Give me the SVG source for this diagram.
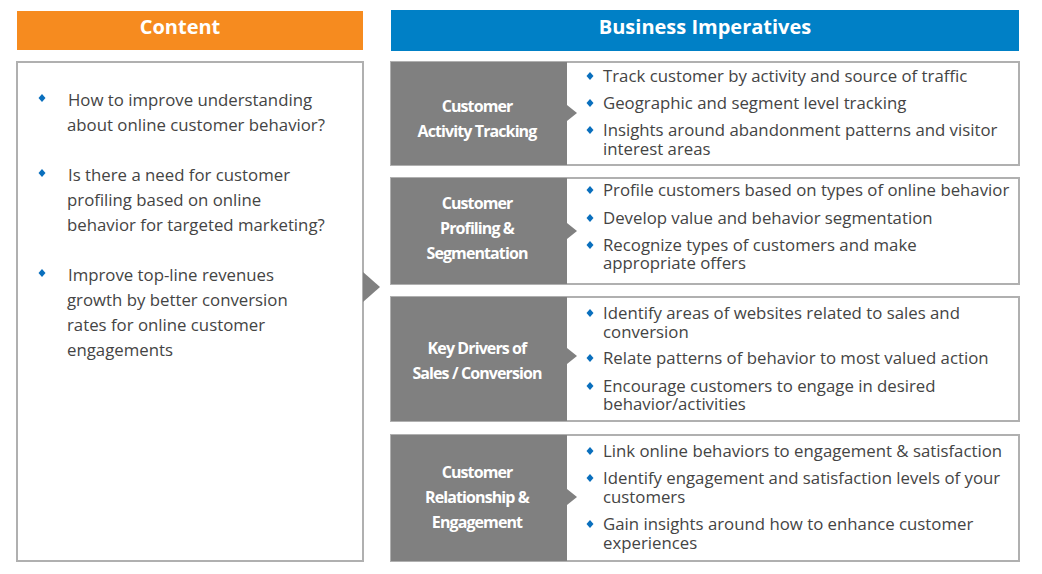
<svg xmlns="http://www.w3.org/2000/svg" width="1042" height="574" viewBox="0 0 1042 574">
<style>
.hd{font-family:"Open Sans",sans-serif;font-weight:bold;font-size:20px;fill:#fff;text-anchor:middle}
.t{font-family:"Open Sans",sans-serif;font-size:16.8px;fill:#444}
.g{font-family:"Open Sans",sans-serif;font-weight:bold;font-size:16px;fill:#fff;text-anchor:middle;letter-spacing:-0.9px}
.box{fill:#fff;stroke:#b0b0b0;stroke-width:2}
.gr{fill:#808080}
.b{fill:#0a6fbd}
</style>
<defs>
<path id="d" d="M0,-4 L3.5,0 L0,4 L-3.5,0Z" class="b"/>
</defs>
<g id="content-header"><rect x="17" y="11" width="346" height="39" fill="#f68b1f"/><text class="hd" x="180" y="34">Content</text></g>
<g id="business-header"><rect x="391" y="10" width="628" height="41" fill="#0080c6"/><text class="hd" x="705" y="34">Business Imperatives</text></g>
<g id="content-box">
<rect class="box" x="17" y="62" width="346" height="499"/>
<use href="#d" x="42" y="98"/><text class="t" x="68" y="106">How to improve understanding</text><text class="t" x="67" y="131">about online customer behavior?</text>
<use href="#d" x="42" y="173"/><text class="t" x="68" y="181">Is there a need for customer</text><text class="t" x="67" y="206">profiling based on online</text><text class="t" x="67" y="231">behavior for targeted marketing?</text>
<use href="#d" x="42" y="273"/><text class="t" x="68" y="281">Improve top-line revenues</text><text class="t" x="67" y="306">growth by better conversion</text><text class="t" x="67" y="331">rates for online customer</text><text class="t" x="67" y="356">engagements</text>
</g>
<g id="connectors"><path d="M363,272 L380,287 L363,302Z" class="gr"/></g>
<g id="panel-1">
<rect class="box" x="391" y="62" width="628" height="103"/><rect class="gr" x="391" y="62" width="176" height="103"/><path class="gr" d="M567,105 L577,113 L567,121Z"/>
<text class="g" x="477" y="112">Customer</text><text class="g" x="477" y="137">Activity Tracking</text>
<use href="#d" x="590" y="76"/><text class="t" x="603" y="82">Track customer by activity and source of traffic</text>
<use href="#d" x="590" y="103"/><text class="t" x="603" y="109">Geographic and segment level tracking</text>
<use href="#d" x="590" y="130"/><text class="t" x="603" y="136">Insights around abandonment patterns and visitor</text><text class="t" x="603" y="155">interest areas</text>
</g>
<g id="panel-2">
<rect class="box" x="391" y="178" width="628" height="106"/><rect class="gr" x="391" y="178" width="176" height="106"/><path class="gr" d="M567,223 L577,231 L567,239Z"/>
<text class="g" x="477" y="209">Customer</text><text class="g" x="477" y="234">Profiling &amp;</text><text class="g" x="477" y="259">Segmentation</text>
<use href="#d" x="590" y="190"/><text class="t" x="603" y="196">Profile customers based on types of online behavior</text>
<use href="#d" x="590" y="218"/><text class="t" x="603" y="224">Develop value and behavior segmentation</text>
<use href="#d" x="590" y="245"/><text class="t" x="603" y="251">Recognize types of customers and make</text><text class="t" x="603" y="269">appropriate offers</text>
</g>
<g id="panel-3">
<rect class="box" x="391" y="297" width="628" height="124"/><rect class="gr" x="391" y="297" width="176" height="124"/><path class="gr" d="M567,348 L577,356 L567,364Z"/>
<text class="g" x="477" y="354">Key Drivers of</text><text class="g" x="477" y="379">Sales / Conversion</text>
<use href="#d" x="590" y="313"/><text class="t" x="603" y="319">Identify areas of websites related to sales and</text><text class="t" x="603" y="338">conversion</text>
<use href="#d" x="590" y="358"/><text class="t" x="603" y="364">Relate patterns of behavior to most valued action</text>
<use href="#d" x="590" y="386"/><text class="t" x="603" y="392">Encourage customers to engage in desired</text><text class="t" x="603" y="410">behavior/activities</text>
</g>
<g id="panel-4">
<rect class="box" x="391" y="435" width="628" height="126"/><rect class="gr" x="391" y="435" width="176" height="126"/><path class="gr" d="M567,489 L577,497 L567,505Z"/>
<text class="g" x="477" y="478">Customer</text><text class="g" x="477" y="503">Relationship &amp;</text><text class="g" x="477" y="528">Engagement</text>
<use href="#d" x="590" y="451"/><text class="t" x="603" y="457">Link online behaviors to engagement &amp; satisfaction</text>
<use href="#d" x="590" y="478"/><text class="t" x="603" y="484">Identify engagement and satisfaction levels of your</text><text class="t" x="603" y="503">customers</text>
<use href="#d" x="590" y="524"/><text class="t" x="603" y="530">Gain insights around how to enhance customer</text><text class="t" x="603" y="549">experiences</text>
</g>
</svg>
